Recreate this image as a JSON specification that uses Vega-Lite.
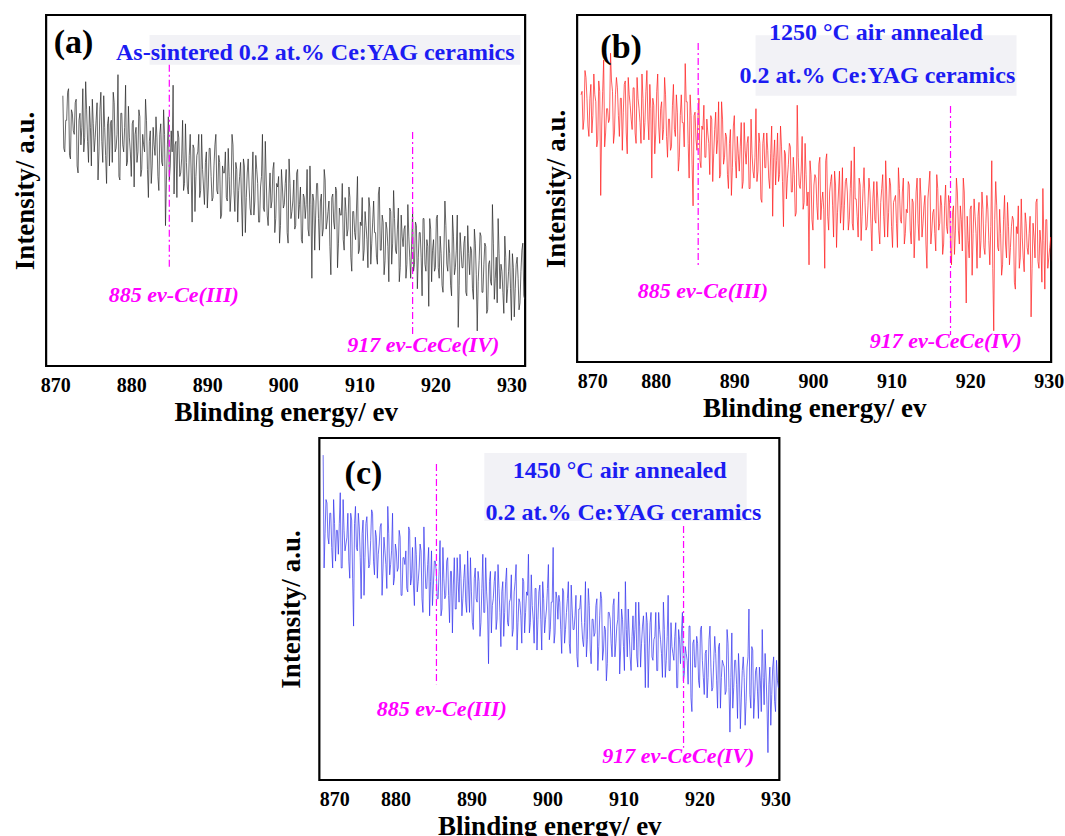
{
"$schema":"https://vega.github.io/schema/vega-lite/v6.json",
"background":"white",
"padding":{"left":10,"top":13,"right":0,"bottom":0},
"datasets":{"xps":[
{"x":870.5,"b":77,"c":95},{"x":870.75,"b":67,"c":72},{"x":871,"a":77,"b":84,"c":81},{"x":871.25,"a":61,"b":76,"c":69},{"x":871.5,"a":70,"b":65,"c":78},{"x":871.75,"a":79,"b":80,"c":62},
{"x":872,"a":59,"b":71,"c":75},{"x":872.25,"a":72,"b":77,"c":73},{"x":872.5,"a":66,"b":62,"c":66},{"x":872.75,"a":76,"b":81,"c":84},
{"x":873,"a":55,"b":48,"c":62},{"x":873.25,"a":72,"b":78,"c":73},{"x":873.5,"a":68,"b":62,"c":69},{"x":873.75,"a":61,"b":73,"c":78},
{"x":874,"a":81,"b":69,"c":59},{"x":874.25,"a":64,"b":89,"c":76},{"x":874.5,"a":74,"b":78,"c":45},{"x":874.75,"a":57,"b":66,"c":80},
{"x":875,"a":69,"b":82,"c":67},{"x":875.25,"a":65,"b":71,"c":74},{"x":875.5,"a":75,"b":76,"c":53},{"x":875.75,"a":61,"b":61,"c":76},
{"x":876,"a":78,"b":80,"c":65},{"x":876.25,"a":58,"b":66,"c":77},{"x":876.5,"a":68,"b":82,"c":62},{"x":876.75,"a":52,"b":74,"c":70},
{"x":877,"a":71,"b":67,"c":78},{"x":877.25,"a":69,"b":79,"c":60},{"x":877.5,"a":58,"b":63,"c":71},{"x":877.75,"a":75,"b":76,"c":66},
{"x":878,"a":62,"b":69,"c":74},{"x":878.25,"a":83,"b":83,"c":54},{"x":878.5,"a":53,"b":64,"c":71},{"x":878.75,"a":72,"b":78,"c":63},
{"x":879,"a":61,"b":70,"c":80},{"x":879.25,"a":80,"b":80,"c":60},{"x":879.5,"a":58,"b":53,"c":67},{"x":879.75,"a":65,"b":74,"c":57},
{"x":880,"a":54,"b":66,"c":69},{"x":880.25,"a":70,"b":83,"c":61},{"x":880.5,"a":66,"b":63,"c":73},{"x":880.75,"a":58,"b":75,"c":54},
{"x":881,"a":73,"b":67,"c":65},{"x":881.25,"a":54,"b":77,"c":63},{"x":881.5,"a":66,"b":59,"c":56},{"x":881.75,"a":61,"b":70,"c":74},
{"x":882,"a":70,"b":62,"c":57},{"x":882.25,"a":48,"b":80,"c":68},{"x":882.5,"a":67,"b":65,"c":51},{"x":882.75,"a":57,"b":72,"c":66},
{"x":883,"a":63,"b":59,"c":58},{"x":883.25,"a":71,"b":77,"c":69},{"x":883.5,"a":54,"b":69,"c":53},{"x":883.75,"a":66,"b":86,"c":74},
{"x":884,"a":58,"b":75,"c":56},{"x":884.25,"a":73,"b":53,"c":63},{"x":884.5,"a":40,"b":71,"c":48},{"x":884.75,"a":63,"b":45,"c":67},
{"x":885,"a":53,"b":72,"c":57},{"x":885.25,"a":67,"b":61,"c":64},{"x":885.5,"a":80,"b":76,"c":53},{"x":885.75,"a":63,"b":56,"c":61},
{"x":886,"a":48,"b":67,"c":48},{"x":886.25,"a":65,"b":59,"c":68},{"x":886.5,"a":55,"b":70,"c":53},{"x":886.75,"a":70,"b":63,"c":64},
{"x":887,"a":52,"b":71,"c":54},{"x":887.25,"a":58,"b":52,"c":61},{"x":887.5,"a":49,"b":67,"c":43},{"x":887.75,"a":66,"b":60,"c":65},
{"x":888,"a":41,"b":75,"c":50},{"x":888.25,"a":62,"b":54,"c":58},{"x":888.5,"a":54,"b":70,"c":66},{"x":888.75,"a":61,"b":59,"c":48},
{"x":889,"a":48,"b":65,"c":59},{"x":889.25,"a":66,"b":50,"c":52},{"x":889.5,"a":51,"b":67,"c":67},{"x":889.75,"a":58,"b":56,"c":49},
{"x":890,"a":45,"b":71,"c":55},{"x":890.25,"a":62,"b":53,"c":44},{"x":890.5,"a":54,"b":60,"c":62},{"x":890.75,"a":48,"b":62,"c":52},
{"x":891,"a":63,"b":50,"c":58},{"x":891.25,"a":50,"b":69,"c":46},{"x":891.5,"a":60,"b":57,"c":66},{"x":891.75,"a":42,"b":65,"c":49},
{"x":892,"a":57,"b":50,"c":55},{"x":892.25,"a":55,"b":60,"c":34},{"x":892.5,"a":48,"b":53,"c":61},{"x":892.75,"a":62,"b":73,"c":51},
{"x":893,"a":44,"b":55,"c":58},{"x":893.25,"a":66,"b":63,"c":44},{"x":893.5,"a":50,"b":46,"c":63},{"x":893.75,"a":58,"b":66,"c":49},
{"x":894,"a":41,"b":56,"c":55},{"x":894.25,"a":54,"b":61,"c":42},{"x":894.5,"a":47,"b":50,"c":58},{"x":894.75,"a":59,"b":68,"c":46},
{"x":895,"a":38,"b":59,"c":52},{"x":895.25,"a":55,"b":51,"c":60},{"x":895.5,"a":51,"b":66,"c":44},{"x":895.75,"a":43,"b":54,"c":58},
{"x":896,"a":61,"b":62,"c":38},{"x":896.25,"a":47,"b":39,"c":53},{"x":896.5,"a":56,"b":60,"c":48},{"x":896.75,"a":41,"b":53,"c":59},
{"x":897,"a":51,"b":63,"c":43},{"x":897.25,"a":66,"b":49,"c":55},{"x":897.5,"a":44,"b":59,"c":66},{"x":897.75,"a":53,"b":42,"c":46},
{"x":898,"a":40,"b":74,"c":51},{"x":898.25,"a":55,"b":51,"c":40},{"x":898.5,"a":47,"b":55,"c":56},{"x":898.75,"a":58,"b":44,"c":47},
{"x":899,"a":42,"b":63,"c":57},{"x":899.25,"a":51,"b":45,"c":38},{"x":899.5,"a":35,"b":28,"c":53},{"x":899.75,"a":56,"b":54,"c":47},
{"x":900,"a":45,"b":38,"c":56},{"x":900.25,"a":52,"b":54,"c":41},{"x":900.5,"a":38,"b":45,"c":52},{"x":900.75,"a":59,"b":57,"c":68},
{"x":901,"a":42,"b":41,"c":43},{"x":901.25,"a":47,"b":49,"c":53},{"x":901.5,"a":39,"b":27,"c":54},{"x":901.75,"a":55,"b":60,"c":44},
{"x":902,"a":42,"b":38,"c":56},{"x":902.25,"a":51,"b":52,"c":40},{"x":902.5,"a":35,"b":45,"c":49},{"x":902.75,"a":48,"b":55,"c":58},
{"x":903,"a":46,"b":33,"c":37},{"x":903.25,"a":39,"b":49,"c":50},{"x":903.5,"a":57,"b":40,"c":44},{"x":903.75,"a":25,"b":56,"c":54},
{"x":904,"a":47,"b":45,"c":33},{"x":904.25,"a":43,"b":53,"c":50},{"x":904.5,"a":52,"b":38,"c":46},{"x":904.75,"a":33,"b":50,"c":39},
{"x":905,"a":49,"b":40,"c":58},{"x":905.25,"a":39,"b":62,"c":41},{"x":905.5,"a":53,"b":47,"c":51},{"x":905.75,"a":41,"b":36,"c":34},
{"x":906,"a":47,"b":51,"c":47},{"x":906.25,"a":26,"b":42,"c":43},{"x":906.5,"a":49,"b":56,"c":53},{"x":906.75,"a":39,"b":38,"c":39},
{"x":907,"a":50,"b":45,"c":55},{"x":907.25,"a":35,"b":49,"c":35},{"x":907.5,"a":43,"b":32,"c":45},{"x":907.75,"a":52,"b":52,"c":29},
{"x":908,"a":33,"b":40,"c":49},{"x":908.25,"a":44,"b":47,"c":47},{"x":908.5,"a":39,"b":34,"c":36},{"x":908.75,"a":48,"b":50,"c":53},
{"x":909,"a":27,"b":42,"c":40},{"x":909.25,"a":44,"b":58,"c":47},{"x":909.5,"a":36,"b":36,"c":31},{"x":909.75,"a":54,"b":53,"c":50},
{"x":910,"a":33,"b":39,"c":39},{"x":910.25,"a":40,"b":46,"c":58},{"x":910.5,"a":30,"b":48,"c":36},{"x":910.75,"a":44,"b":33,"c":43},
{"x":911,"a":36,"b":50,"c":32},{"x":911.25,"a":48,"b":40,"c":48},{"x":911.5,"a":29,"b":53,"c":44},{"x":911.75,"a":41,"b":37,"c":36},
{"x":912,"a":38,"b":43,"c":52},{"x":912.25,"a":31,"b":51,"c":33},{"x":912.5,"a":49,"b":34,"c":45},{"x":912.75,"a":33,"b":46,"c":40},
{"x":913,"a":43,"b":38,"c":49},{"x":913.25,"a":26,"b":53,"c":27},{"x":913.5,"a":41,"b":35,"c":46},{"x":913.75,"a":34,"b":47,"c":36},
{"x":914,"a":45,"b":40,"c":41},{"x":914.25,"a":29,"b":48,"c":49},{"x":914.5,"a":50,"b":27,"c":32},{"x":914.75,"a":33,"b":51,"c":44},
{"x":915,"a":39,"b":34,"c":37},{"x":915.25,"a":24,"b":43,"c":52},{"x":915.5,"a":43,"b":37,"c":30},{"x":915.75,"a":34,"b":54,"c":42},
{"x":916,"a":40,"b":38,"c":32},{"x":916.25,"a":29,"b":48,"c":46},{"x":916.5,"a":37,"b":31,"c":37},{"x":916.75,"a":25,"b":45,"c":42},
{"x":917,"a":44,"b":39,"c":27},{"x":917.25,"a":29,"b":48,"c":44},{"x":917.5,"a":40,"b":34,"c":34},{"x":917.75,"a":31,"b":43,"c":49},
{"x":918,"a":38,"b":31,"c":31},{"x":918.25,"a":20,"b":53,"c":37},{"x":918.5,"a":42,"b":38,"c":28},{"x":918.75,"a":27,"b":45,"c":45},
{"x":919,"a":34,"b":32,"c":20},{"x":919.25,"a":42,"b":49,"c":41},{"x":919.5,"a":24,"b":17,"c":33},{"x":919.75,"a":36,"b":35,"c":40},
{"x":920,"a":28,"b":44,"c":27},{"x":920.25,"a":43,"b":25,"c":45},{"x":920.5,"a":25,"b":47,"c":30},{"x":920.75,"a":32,"b":37,"c":37},
{"x":921,"a":21,"b":42,"c":24},{"x":921.25,"a":47,"b":30,"c":41},{"x":921.5,"a":29,"b":49,"c":33},{"x":921.75,"a":36,"b":33,"c":27},
{"x":922,"a":23,"b":40,"c":42},{"x":922.25,"a":43,"b":44,"c":29},{"x":922.5,"a":26,"b":28,"c":39},{"x":922.75,"a":33,"b":58,"c":21},
{"x":923,"a":11,"b":9,"c":35},{"x":923.25,"a":38,"b":52,"c":33},{"x":923.5,"a":28,"b":33,"c":26},{"x":923.75,"a":35,"b":44,"c":40},
{"x":924,"a":21,"b":25,"c":14},{"x":924.25,"a":40,"b":41,"c":43},{"x":924.5,"a":26,"b":34,"c":27},{"x":924.75,"a":33,"b":46,"c":35},
{"x":925,"a":19,"b":28,"c":18},{"x":925.25,"a":35,"b":39,"c":31},{"x":925.5,"a":10,"b":41,"c":24},{"x":925.75,"a":30,"b":21,"c":36},
{"x":926,"a":37,"b":37,"c":16},{"x":926.25,"a":21,"b":27,"c":33},{"x":926.5,"a":35,"b":47,"c":50},{"x":926.75,"a":15,"b":30,"c":21},
{"x":927,"a":29,"b":43,"c":38},{"x":927.25,"a":24,"b":33,"c":24},{"x":927.5,"a":46,"b":37,"c":33},{"x":927.75,"a":19,"b":13,"c":18},
{"x":928,"a":31,"b":40,"c":29},{"x":928.25,"a":42,"b":30,"c":44},{"x":928.5,"a":22,"b":47,"c":22},{"x":928.75,"a":27,"b":27,"c":31},
{"x":929,"a":15,"b":34,"c":8},{"x":929.25,"a":31,"b":50,"c":33},{"x":929.5,"a":22,"b":21,"c":25},{"x":929.75,"a":33,"b":41,"c":36},
{"x":930,"a":13,"b":30,"c":20},{"x":930.25,"a":28,"b":36,"c":29},{"x":930.5,"a":22},{"x":930.75,"a":31},
{"x":931,"a":16},{"x":931.25,"a":27},{"x":931.5,"a":35},{"x":931.75,"a":19},{"x":932,"a":29},
{"x":870.625,"b":78,"c":62},{"x":870.875,"b":70,"c":82},
{"x":871.125,"a":62,"b":82,"c":71},{"x":871.375,"a":70,"b":68,"c":78},{"x":871.625,"a":78,"b":76,"c":68},{"x":871.875,"a":60,"b":66,"c":82},
{"x":872.125,"a":73,"b":83,"c":64},{"x":872.375,"a":67,"b":75,"c":73},{"x":872.625,"a":75,"b":64,"c":75},{"x":872.875,"a":57,"b":78,"c":62},
{"x":873.125,"a":70,"b":68,"c":82},{"x":873.375,"a":63,"b":87,"c":67},{"x":873.625,"a":79,"b":66,"c":71},{"x":873.875,"a":65,"b":73,"c":64},
{"x":874.125,"a":73,"b":70,"c":78},{"x":874.375,"a":58,"b":81,"c":59},{"x":874.625,"a":68,"b":63,"c":75},{"x":874.875,"a":76,"b":77,"c":68},
{"x":875.125,"a":61,"b":79,"c":78},{"x":875.375,"a":70,"b":65,"c":65},{"x":875.625,"a":53,"b":76,"c":72},{"x":875.875,"a":73,"b":72,"c":54},
{"x":876.125,"a":64,"b":81,"c":75},{"x":876.375,"a":77,"b":60,"c":69},{"x":876.625,"a":60,"b":77,"c":63},{"x":876.875,"a":69,"b":70,"c":79},
{"x":877.125,"a":57,"b":79,"c":64},{"x":877.375,"a":70,"b":66,"c":73},{"x":877.625,"a":78,"b":82,"c":59},{"x":877.875,"a":61,"b":73,"c":69},
{"x":878.125,"a":66,"b":63,"c":75},{"x":878.375,"a":54,"b":76,"c":62},{"x":878.625,"a":72,"b":69,"c":67},{"x":878.875,"a":63,"b":84,"c":56},
{"x":879.125,"a":68,"b":64,"c":72},{"x":879.375,"a":57,"b":73,"c":63},{"x":879.625,"a":74,"b":76,"c":78},{"x":879.875,"a":61,"b":60,"c":59},
{"x":880.125,"a":69,"b":78,"c":67},{"x":880.375,"a":51,"b":68,"c":62},{"x":880.625,"a":68,"b":73,"c":71},{"x":880.875,"a":61,"b":64,"c":54},
{"x":881.125,"a":71,"b":82,"c":65},{"x":881.375,"a":56,"b":65,"c":67},{"x":881.625,"a":63,"b":70,"c":55},{"x":881.875,"a":76,"b":61,"c":73},
{"x":882.125,"a":56,"b":74,"c":59},{"x":882.375,"a":64,"b":67,"c":57},{"x":882.625,"a":52,"b":77,"c":71},{"x":882.875,"a":68,"b":55,"c":55},
{"x":883.125,"a":60,"b":71,"c":62},{"x":883.375,"a":65,"b":69,"c":67},{"x":883.625,"a":50,"b":62,"c":49},{"x":883.875,"a":69,"b":75,"c":64},
{"x":884.125,"a":57,"b":63,"c":56},{"x":884.375,"a":66,"b":77,"c":68},{"x":884.625,"a":53,"b":57,"c":58},{"x":884.875,"a":71,"b":71,"c":51},
{"x":885.125,"a":57,"b":64,"c":64},{"x":885.375,"a":61,"b":71,"c":61},{"x":885.625,"a":49,"b":58,"c":53},{"x":885.875,"a":64,"b":68,"c":70},
{"x":886.125,"a":67,"b":74,"c":50},{"x":886.375,"a":54,"b":59,"c":59},{"x":886.625,"a":59,"b":66,"c":54},{"x":886.875,"a":50,"b":54,"c":65},
{"x":887.125,"a":69,"b":70,"c":46},{"x":887.375,"a":51,"b":60,"c":61},{"x":887.625,"a":60,"b":72,"c":57},{"x":887.875,"a":55,"b":64,"c":50},
{"x":888.125,"a":63,"b":53,"c":65},{"x":888.375,"a":44,"b":75,"c":52},{"x":888.625,"a":60,"b":57,"c":59},{"x":888.875,"a":66,"b":66,"c":53},
{"x":889.125,"a":50,"b":54,"c":63},{"x":889.375,"a":56,"b":63,"c":49},{"x":889.625,"a":46,"b":48,"c":57},{"x":889.875,"a":61,"b":68,"c":65},
{"x":890.125,"a":51,"b":58,"c":46},{"x":890.375,"a":62,"b":65,"c":59},{"x":890.625,"a":47,"b":55,"c":53},{"x":890.875,"a":57,"b":69,"c":61},
{"x":891.125,"a":66,"b":52,"c":42},{"x":891.375,"a":49,"b":61,"c":56},{"x":891.625,"a":58,"b":63,"c":49},{"x":891.875,"a":43,"b":50,"c":65},
{"x":892.125,"a":55,"b":70,"c":50},{"x":892.375,"a":61,"b":55,"c":58},{"x":892.625,"a":47,"b":59,"c":43},{"x":892.875,"a":54,"b":52,"c":53},
{"x":893.125,"a":49,"b":66,"c":61},{"x":893.375,"a":63,"b":47,"c":47},{"x":893.625,"a":44,"b":63,"c":56},{"x":893.875,"a":56,"b":56,"c":39},
{"x":894.125,"a":50,"b":66,"c":58},{"x":894.375,"a":58,"b":53,"c":49},{"x":894.625,"a":37,"b":60,"c":62},{"x":894.875,"a":57,"b":42,"c":45},
{"x":895.125,"a":48,"b":64,"c":53},{"x":895.375,"a":59,"b":58,"c":42},{"x":895.625,"a":45,"b":52,"c":55},{"x":895.875,"a":53,"b":68,"c":63},
{"x":896.125,"a":43,"b":52,"c":46},{"x":896.375,"a":60,"b":61,"c":52},{"x":896.625,"a":52,"b":47,"c":40},{"x":896.875,"a":41,"b":57,"c":58},
{"x":897.125,"a":54,"b":62,"c":49},{"x":897.375,"a":45,"b":49,"c":54},{"x":897.625,"a":64,"b":54,"c":43},{"x":897.875,"a":43,"b":43,"c":60},
{"x":898.125,"a":49,"b":59,"c":47},{"x":898.375,"a":45,"b":50,"c":56},{"x":898.625,"a":56,"b":65,"c":38},{"x":898.875,"a":38,"b":46,"c":55},
{"x":899.125,"a":52,"b":54,"c":47},{"x":899.375,"a":54,"b":49,"c":58},{"x":899.625,"a":40,"b":58,"c":43},{"x":899.875,"a":51,"b":41,"c":50},
{"x":900.125,"a":46,"b":51,"c":63},{"x":900.375,"a":56,"b":53,"c":44},{"x":900.625,"a":35,"b":41,"c":52},{"x":900.875,"a":52,"b":59,"c":40},
{"x":901.125,"a":44,"b":46,"c":55},{"x":901.375,"a":53,"b":44,"c":47},{"x":901.625,"a":40,"b":58,"c":52},{"x":901.875,"a":56,"b":42,"c":37},
{"x":902.125,"a":46,"b":49,"c":55},{"x":902.375,"a":36,"b":54,"c":44},{"x":902.625,"a":49,"b":36,"c":53},{"x":902.875,"a":42,"b":51,"c":40},
{"x":903.125,"a":56,"b":43,"c":57},{"x":903.375,"a":37,"b":55,"c":44},{"x":903.625,"a":46,"b":45,"c":48},{"x":903.875,"a":49,"b":38,"c":36},
{"x":904.125,"a":33,"b":52,"c":50},{"x":904.375,"a":52,"b":49,"c":54},{"x":904.625,"a":42,"b":41,"c":41},{"x":904.875,"a":47,"b":58,"c":46},
{"x":905.125,"a":37,"b":38,"c":36},{"x":905.375,"a":56,"b":47,"c":56},{"x":905.625,"a":39,"b":42,"c":38},{"x":905.875,"a":44,"b":53,"c":47},
{"x":906.125,"a":34,"b":35,"c":42},{"x":906.375,"a":48,"b":50,"c":51},{"x":906.625,"a":41,"b":46,"c":32},{"x":906.875,"a":51,"b":39,"c":48},
{"x":907.125,"a":28,"b":53,"c":53},{"x":907.375,"a":45,"b":40,"c":38},{"x":907.625,"a":43,"b":47,"c":44},{"x":907.875,"a":36,"b":41,"c":34},
{"x":908.125,"a":48,"b":52,"c":49},{"x":908.375,"a":37,"b":38,"c":40},{"x":908.625,"a":51,"b":46,"c":51},{"x":908.875,"a":31,"b":54,"c":36},
{"x":909.125,"a":44,"b":36,"c":45},{"x":909.375,"a":38,"b":49,"c":55},{"x":909.625,"a":45,"b":43,"c":38},{"x":909.875,"a":32,"b":51,"c":47},
{"x":910.125,"a":41,"b":33,"c":32},{"x":910.375,"a":48,"b":47,"c":44},{"x":910.625,"a":33,"b":40,"c":50},{"x":910.875,"a":40,"b":56,"c":36},
{"x":911.125,"a":28,"b":41,"c":42},{"x":911.375,"a":45,"b":49,"c":38},{"x":911.625,"a":35,"b":34,"c":52},{"x":911.875,"a":47,"b":44,"c":33},
{"x":912.125,"a":38,"b":52,"c":45},{"x":912.375,"a":29,"b":38,"c":40},{"x":912.625,"a":51,"b":47,"c":48},{"x":912.875,"a":33,"b":30,"c":27},
{"x":913.125,"a":41,"b":49,"c":46},{"x":913.375,"a":30,"b":40,"c":38},{"x":913.625,"a":39,"b":53,"c":49},{"x":913.875,"a":24,"b":36,"c":35},
{"x":914.125,"a":44,"b":45,"c":42},{"x":914.375,"a":35,"b":34,"c":32},{"x":914.625,"a":42,"b":47,"c":49},{"x":914.875,"a":32,"b":55,"c":41},
{"x":915.125,"a":45,"b":38,"c":30},{"x":915.375,"a":28,"b":44,"c":44},{"x":915.625,"a":37,"b":32,"c":35},{"x":915.875,"a":39,"b":50,"c":54},
{"x":916.125,"a":25,"b":40,"c":32},{"x":916.375,"a":46,"b":45,"c":39},{"x":916.625,"a":31,"b":34,"c":35},{"x":916.875,"a":35,"b":51,"c":46},
{"x":917.125,"a":27,"b":37,"c":27},{"x":917.375,"a":41,"b":46,"c":41},{"x":917.625,"a":22,"b":28,"c":43},{"x":917.875,"a":38,"b":45,"c":29},
{"x":918.125,"a":31,"b":38,"c":39},{"x":918.375,"a":42,"b":49,"c":35},{"x":918.625,"a":29,"b":34,"c":45},{"x":918.875,"a":36,"b":41,"c":24},
{"x":919.125,"a":17,"b":53,"c":40},{"x":919.375,"a":39,"b":34,"c":33},{"x":919.625,"a":33,"b":42,"c":42},{"x":919.875,"a":27,"b":30,"c":29},
{"x":920.125,"a":42,"b":45,"c":44},{"x":920.375,"a":28,"b":37,"c":35},{"x":920.625,"a":37,"b":42,"c":25},{"x":920.875,"a":23,"b":27,"c":38},
{"x":921.125,"a":33,"b":46,"c":30},{"x":921.375,"a":40,"b":35,"c":45},{"x":921.625,"a":27,"b":44,"c":26},{"x":921.875,"a":32,"b":31,"c":35},
{"x":922.125,"a":20,"b":48,"c":37},{"x":922.375,"a":37,"b":35,"c":21},{"x":922.625,"a":28,"b":39,"c":40},{"x":922.875,"a":43,"b":27,"c":30},
{"x":923.125,"a":23,"b":41,"c":34},{"x":923.375,"a":33,"b":45,"c":25},{"x":923.625,"a":28,"b":32,"c":44},{"x":923.875,"a":37,"b":37,"c":27},
{"x":924.125,"a":20,"b":28,"c":30},{"x":924.375,"a":32,"b":48,"c":21},{"x":924.625,"a":34,"b":30,"c":35},{"x":924.875,"a":22,"b":39,"c":28},
{"x":925.125,"a":39,"b":33,"c":37},{"x":925.375,"a":26,"b":42,"c":15},{"x":925.625,"a":24,"b":23,"c":32},{"x":925.875,"a":38,"b":39,"c":30},
{"x":926.125,"a":21,"b":45,"c":23},{"x":926.375,"a":29,"b":30,"c":36},{"x":926.625,"a":34,"b":36,"c":25},{"x":926.875,"a":16,"b":26,"c":39},
{"x":927.125,"a":30,"b":40,"c":18},{"x":927.375,"a":23,"b":31,"c":32},{"x":927.625,"a":35,"b":42,"c":26},{"x":927.875,"a":25,"b":27,"c":33},
{"x":928.125,"a":18,"b":36,"c":20},{"x":928.375,"a":32,"b":46,"c":30},{"x":928.625,"a":29,"b":29,"c":37},{"x":928.875,"a":21,"b":38,"c":22},
{"x":929.125,"a":37,"b":23,"c":28},{"x":929.375,"a":18,"b":35,"c":16},{"x":929.625,"a":27,"b":41,"c":33},{"x":929.875,"a":22,"b":27,"c":23},
{"x":930.125,"a":32,"b":33,"c":35},{"x":930.375,"a":14,"b":29,"c":27},{"x":930.625,"a":29},{"x":930.875,"a":25},
{"x":931.125,"a":18},{"x":931.375,"a":33},{"x":931.625,"a":20},{"x":931.875,"a":27}
]},
"spacing":9,
"center":true,
"vconcat":[
{"hconcat":[
{"width":479,"height":351,
"encoding":{"x":{"field":"x","type":"quantitative","scale":{"domain":[868.8,931.8],"nice":false,"zero":false},"axis":{"title":"Blinding energy/ ev","values":[870,880,890,900,910,920,930],"format":"d","ticks":false,"domain":false,"grid":false,"labelPadding":9,"titlePadding":4}},
"y":{"field":"y","type":"quantitative","scale":{"domain":[0,100],"nice":false,"zero":false},"axis":{"title":"Intensity/ a.u.","ticks":false,"labels":false,"domain":false,"grid":false,"titlePadding":7}}},
"layer":[
{"data":{"values":[{"x":882.4,"x2":931.2,"y":94.3,"y2":85.8}]},"mark":{"type":"rect","fill":"#f2f2f6"},"encoding":{"x2":{"field":"x2"},"y2":{"field":"y2"}}},
{"data":{"name":"xps"},"transform":[{"fold":["a"],"as":["k","y"]}],"mark":{"type":"line","stroke":"#262626","strokeWidth":0.7,"clip":true}},
{"data":{"values":[{"x":885,"y":85.8,"y2":27.4},{"x":917,"y":66.7,"y2":8.3}]},"mark":{"type":"rule","stroke":"#ff00ff","strokeWidth":1.2,"strokeDash":[7,3,2,3]},"encoding":{"y2":{"field":"y2"}}},
{"data":{"values":[{"x":870},{"x":880},{"x":890},{"x":900},{"x":910},{"x":920},{"x":930}]},"mark":{"type":"rule","stroke":"#000","strokeWidth":2},"encoding":{"y":{"datum":0,"type":"quantitative","scale":{"domain":[0,100],"nice":false,"zero":false},"axis":{"title":"Intensity/ a.u.","ticks":false,"labels":false,"domain":false,"grid":false,"titlePadding":7}},"y2":{"datum":1.8}}},
{"data":{"values":[{"x":875},{"x":885},{"x":895},{"x":905},{"x":915},{"x":925}]},"mark":{"type":"rule","stroke":"#000","strokeWidth":2},"encoding":{"y":{"datum":0,"type":"quantitative","scale":{"domain":[0,100],"nice":false,"zero":false},"axis":{"title":"Intensity/ a.u.","ticks":false,"labels":false,"domain":false,"grid":false,"titlePadding":7}},"y2":{"datum":1.1}}},
{"data":{"values":[{"x":872.4,"y":92,"t":"(a)"}]},"mark":{"type":"text","font":"Liberation Serif","fontWeight":"bold","fontSize":34,"color":"#000"},"encoding":{"text":{"field":"t"}}},
{"data":{"values":[{"x":904.2,"y":89.2,"t":"As-sintered 0.2 at.% Ce:YAG ceramics"}]},"mark":{"type":"text","font":"Liberation Serif","fontWeight":"bold","fontSize":24,"color":"#1c1cf2"},"encoding":{"text":{"field":"t"}}},
{"data":{"values":[{"x":885.6,"y":20.2,"t":"885 ev-Ce(III)"},{"x":918.4,"y":6,"t":"917 ev-CeCe(IV)"}]},"mark":{"type":"text","font":"Liberation Serif","fontWeight":"bold","fontStyle":"italic","fontSize":22,"color":"#ff00ff"},"encoding":{"text":{"field":"t"}}}
]},
{"width":474,"height":347,
"encoding":{"x":{"field":"x","type":"quantitative","scale":{"domain":[870,930.3],"nice":false,"zero":false},"axis":{"title":"Blinding energy/ ev","values":[870,880,890,900,910,920,930],"format":"d","ticks":false,"domain":false,"grid":false,"labelPadding":9,"titlePadding":4}},
"y":{"field":"y","type":"quantitative","scale":{"domain":[0,100],"nice":false,"zero":false},"axis":{"title":"Intensity/ a.u.","ticks":false,"labels":false,"domain":false,"grid":false,"titlePadding":7}}},
"layer":[
{"data":{"values":[{"x":892.7,"x2":925.9,"y":94.2,"y2":76.7}]},"mark":{"type":"rect","fill":"#f2f2f6"},"encoding":{"x2":{"field":"x2"},"y2":{"field":"y2"}}},
{"data":{"name":"xps"},"transform":[{"fold":["b"],"as":["k","y"]}],"mark":{"type":"line","stroke":"#ff1a1a","strokeWidth":0.7,"clip":true}},
{"data":{"values":[{"x":885.4,"y":91.9,"y2":27.7},{"x":917.5,"y":73.8,"y2":7.8}]},"mark":{"type":"rule","stroke":"#ff00ff","strokeWidth":1.2,"strokeDash":[7,3,2,3]},"encoding":{"y2":{"field":"y2"}}},
{"data":{"values":[{"x":870},{"x":880},{"x":890},{"x":900},{"x":910},{"x":920},{"x":930}]},"mark":{"type":"rule","stroke":"#000","strokeWidth":2},"encoding":{"y":{"datum":0,"type":"quantitative","scale":{"domain":[0,100],"nice":false,"zero":false},"axis":{"title":"Intensity/ a.u.","ticks":false,"labels":false,"domain":false,"grid":false,"titlePadding":7}},"y2":{"datum":1.8}}},
{"data":{"values":[{"x":875},{"x":885},{"x":895},{"x":905},{"x":915},{"x":925}]},"mark":{"type":"rule","stroke":"#000","strokeWidth":2},"encoding":{"y":{"datum":0,"type":"quantitative","scale":{"domain":[0,100],"nice":false,"zero":false},"axis":{"title":"Intensity/ a.u.","ticks":false,"labels":false,"domain":false,"grid":false,"titlePadding":7}},"y2":{"datum":1.1}}},
{"data":{"values":[{"x":875.6,"y":90.5,"t":"(b)"}]},"mark":{"type":"text","font":"Liberation Serif","fontWeight":"bold","fontSize":34,"color":"#000"},"encoding":{"text":{"field":"t"}}},
{"data":{"values":[{"x":908,"y":94.8,"t":"1250 °C air annealed"},{"x":908.2,"y":82.4,"t":"0.2 at.% Ce:YAG ceramics"}]},"mark":{"type":"text","font":"Liberation Serif","fontWeight":"bold","fontSize":24,"color":"#1c1cf2"},"encoding":{"text":{"field":"t"}}},
{"data":{"values":[{"x":886,"y":20.5,"t":"885 ev-Ce(III)"},{"x":916.9,"y":6,"t":"917 ev-CeCe(IV)"}]},"mark":{"type":"text","font":"Liberation Serif","fontWeight":"bold","fontStyle":"italic","fontSize":22,"color":"#ff00ff"},"encoding":{"text":{"field":"t"}}}
]}
],"spacing":12},
{"width":460,"height":342,
"encoding":{"x":{"field":"x","type":"quantitative","scale":{"domain":[870,930.5],"nice":false,"zero":false},"axis":{"title":"Blinding energy/ ev","values":[870,880,890,900,910,920,930],"format":"d","ticks":false,"domain":false,"grid":false,"labelPadding":9,"titlePadding":4}},
"y":{"field":"y","type":"quantitative","scale":{"domain":[0,100],"nice":false,"zero":false},"axis":{"title":"Intensity/ a.u.","ticks":false,"labels":false,"domain":false,"grid":false,"titlePadding":14}}},
"layer":[
{"data":{"values":[{"x":891.7,"x2":926.2,"y":95.6,"y2":75.7}]},"mark":{"type":"rect","fill":"#f2f2f6"},"encoding":{"x2":{"field":"x2"},"y2":{"field":"y2"}}},
{"data":{"name":"xps"},"transform":[{"fold":["c"],"as":["k","y"]}],"mark":{"type":"line","stroke":"#3030ee","strokeWidth":0.7,"clip":true}},
{"data":{"values":[{"x":885.4,"y":92.4,"y2":28},{"x":917.9,"y":74.3,"y2":9.4}]},"mark":{"type":"rule","stroke":"#ff00ff","strokeWidth":1.2,"strokeDash":[7,3,2,3]},"encoding":{"y2":{"field":"y2"}}},
{"data":{"values":[{"x":870},{"x":880},{"x":890},{"x":900},{"x":910},{"x":920},{"x":930}]},"mark":{"type":"rule","stroke":"#000","strokeWidth":2},"encoding":{"y":{"datum":0,"type":"quantitative","scale":{"domain":[0,100],"nice":false,"zero":false},"axis":{"title":"Intensity/ a.u.","ticks":false,"labels":false,"domain":false,"grid":false,"titlePadding":14}},"y2":{"datum":1.8}}},
{"data":{"values":[{"x":875},{"x":885},{"x":895},{"x":905},{"x":915},{"x":925}]},"mark":{"type":"rule","stroke":"#000","strokeWidth":2},"encoding":{"y":{"datum":0,"type":"quantitative","scale":{"domain":[0,100],"nice":false,"zero":false},"axis":{"title":"Intensity/ a.u.","ticks":false,"labels":false,"domain":false,"grid":false,"titlePadding":14}},"y2":{"datum":1.1}}},
{"data":{"values":[{"x":875.8,"y":89.5,"t":"(c)"}]},"mark":{"type":"text","font":"Liberation Serif","fontWeight":"bold","fontSize":34,"color":"#000"},"encoding":{"text":{"field":"t"}}},
{"data":{"values":[{"x":909.5,"y":90.4,"t":"1450 °C air annealed"},{"x":910,"y":78.1,"t":"0.2 at.% Ce:YAG ceramics"}]},"mark":{"type":"text","font":"Liberation Serif","fontWeight":"bold","fontSize":24,"color":"#1c1cf2"},"encoding":{"text":{"field":"t"}}},
{"data":{"values":[{"x":886.1,"y":20.8,"t":"885 ev-Ce(III)"},{"x":917.2,"y":7,"t":"917 ev-CeCe(IV)"}]},"mark":{"type":"text","font":"Liberation Serif","fontWeight":"bold","fontStyle":"italic","fontSize":22,"color":"#ff00ff"},"encoding":{"text":{"field":"t"}}}
]}
],
"config":{"view":{"stroke":"#000","strokeWidth":2.2},"axis":{"labelFont":"Liberation Serif","labelFontSize":20,"labelFontWeight":"bold","labelColor":"#000","titleFont":"Liberation Serif","titleFontSize":27,"titleFontWeight":"bold","titleColor":"#000"}}
}
